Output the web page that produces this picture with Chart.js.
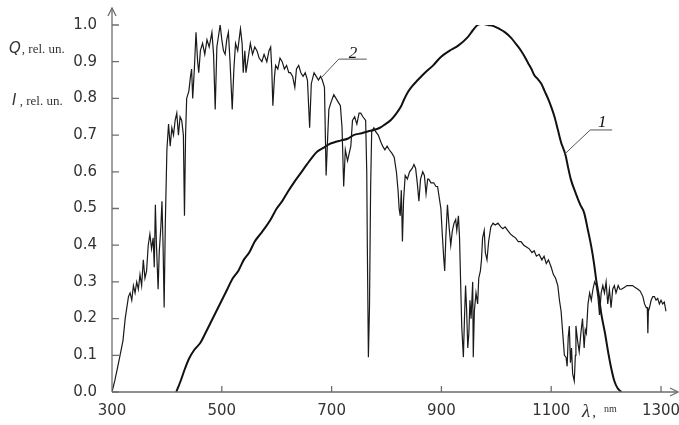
<!DOCTYPE html>
<html><head><meta charset="utf-8">
<script src="https://cdn.jsdelivr.net/npm/chart.js@4"></script>
<style>html,body{margin:0;padding:0;background:#fff}#wrap{width:679px;height:425px;position:relative}</style>
</head><body><div id="wrap"><canvas id="c" width="679" height="425"></canvas></div>
<script>
// Tick labels
const xTicks = [300, 500, 700, 900, 1100, 1300];
const yTicks = [0, 0.1, 0.2, 0.3, 0.4, 0.5, 0.6, 0.7, 0.8, 0.9, 1.0];

// Curve 1: Q (relative units) vs wavelength, nm
const lambda1 = [417,425,432,440,450,461,470,480,490,500,510,520,530,540,550,560,570,580,589,600,610,620,631,643,655,665,674,685,695,704,716,729,740,755,766,777,788,798,808,817,826,832,838,845,857,870,885,899,915,930,948,957,966,975,985,995,1005,1016,1027,1036,1045,1052,1058,1064,1069,1076,1082,1088,1094,1100,1106,1112,1118,1126,1131,1136,1145,1153,1160,1167,1173,1178,1182,1187,1191,1198,1204,1210,1215,1221,1228];
const q1 = [0.00,0.03,0.06,0.09,0.115,0.134,0.16,0.19,0.22,0.25,0.28,0.31,0.33,0.36,0.38,0.41,0.43,0.45,0.47,0.50,0.52,0.545,0.57,0.595,0.62,0.64,0.655,0.665,0.675,0.68,0.685,0.69,0.70,0.705,0.71,0.714,0.72,0.73,0.741,0.757,0.777,0.797,0.815,0.83,0.85,0.87,0.89,0.913,0.93,0.943,0.967,0.985,1.00,1.003,1.00,0.997,0.99,0.98,0.965,0.948,0.93,0.913,0.896,0.88,0.864,0.852,0.84,0.82,0.80,0.777,0.75,0.715,0.68,0.646,0.61,0.578,0.54,0.51,0.488,0.44,0.396,0.35,0.305,0.26,0.215,0.16,0.106,0.06,0.03,0.01,0.00];

// Curve 2: I (relative units) vs wavelength, nm
const lambda2 = [300,305,312,320,324,327,330,333,336,339,342,345,348,351,354,357,360,363,366,369,372,375,377,379,381,384,386,389,391,393,395,397,400,403,406,409,412,415,418,421,424,427,430,432,434,436,440,443,445,447,450,453,456,458,461,465,469,473,477,482,485,488,491,494,497,500,503,506,509,512,515,519,522,525,529,534,537,539,542,544,548,552,556,560,564,568,573,577,582,586,589,591,593,596,598,602,606,610,614,618,622,625,629,633,636,640,644,648,652,656,660,663,668,672,676,680,683,687,690,693,695,699,704,708,712,716,719,722,725,729,732,735,738,742,746,750,753,757,762,764,765,767,769,771,773,777,780,785,790,793,797,801,805,810,814,818,821,823,825,827,829,831,834,838,842,847,850,853,856,859,862,866,869,872,875,877,881,886,890,893,896,899,902,904,906,908,911,914,917,920,923,926,928,931,933,935,937,940,942,944,946,948,950,952,954,957,958,960,963,966,968,971,973,975,978,980,983,986,990,994,998,1003,1008,1012,1016,1021,1026,1030,1035,1040,1045,1050,1055,1060,1065,1069,1073,1078,1083,1087,1091,1095,1100,1104,1108,1112,1115,1118,1120,1122,1124,1127,1129,1131,1133,1135,1137,1139,1142,1144,1145,1148,1151,1154,1157,1160,1162,1164,1167,1170,1173,1176,1179,1182,1185,1188,1191,1194,1197,1200,1203,1206,1209,1212,1215,1218,1222,1225,1228,1233,1238,1243,1248,1253,1258,1262,1267,1270,1273,1275,1276,1277,1279,1282,1285,1288,1291,1294,1297,1300,1303,1306,1309];
const i2 = [0.00,0.03,0.08,0.14,0.20,0.23,0.26,0.27,0.25,0.29,0.27,0.30,0.28,0.32,0.29,0.36,0.31,0.33,0.40,0.43,0.39,0.42,0.34,0.51,0.40,0.28,0.38,0.45,0.52,0.40,0.23,0.45,0.66,0.73,0.67,0.72,0.70,0.74,0.76,0.70,0.75,0.74,0.70,0.48,0.70,0.80,0.82,0.86,0.88,0.80,0.88,0.98,0.90,0.87,0.93,0.95,0.92,0.96,0.94,0.98,0.92,0.77,0.94,0.97,1.00,0.96,0.93,0.92,0.96,0.98,0.90,0.77,0.88,0.95,0.93,0.99,0.95,0.87,0.93,0.87,0.91,0.95,0.92,0.94,0.93,0.91,0.90,0.92,0.90,0.93,0.94,0.88,0.78,0.86,0.89,0.88,0.91,0.90,0.88,0.89,0.87,0.87,0.86,0.83,0.88,0.89,0.87,0.86,0.87,0.85,0.72,0.84,0.87,0.86,0.85,0.86,0.85,0.83,0.59,0.70,0.77,0.79,0.81,0.80,0.79,0.78,0.72,0.56,0.66,0.63,0.65,0.67,0.74,0.75,0.73,0.76,0.76,0.75,0.74,0.60,0.41,0.095,0.23,0.55,0.71,0.72,0.71,0.70,0.68,0.67,0.66,0.67,0.66,0.65,0.64,0.60,0.55,0.50,0.48,0.55,0.41,0.52,0.59,0.58,0.60,0.61,0.62,0.61,0.57,0.52,0.58,0.60,0.59,0.54,0.58,0.58,0.57,0.57,0.56,0.56,0.53,0.50,0.42,0.37,0.33,0.42,0.51,0.45,0.40,0.44,0.46,0.47,0.44,0.48,0.42,0.30,0.18,0.095,0.20,0.29,0.22,0.12,0.16,0.25,0.20,0.30,0.095,0.22,0.27,0.24,0.31,0.33,0.36,0.42,0.44,0.38,0.36,0.41,0.45,0.46,0.455,0.46,0.45,0.445,0.45,0.44,0.43,0.425,0.42,0.41,0.41,0.40,0.395,0.39,0.38,0.385,0.37,0.375,0.36,0.37,0.35,0.36,0.34,0.32,0.31,0.29,0.25,0.22,0.18,0.14,0.10,0.095,0.07,0.15,0.18,0.08,0.12,0.05,0.03,0.10,0.18,0.14,0.11,0.16,0.20,0.12,0.17,0.16,0.24,0.27,0.25,0.28,0.30,0.29,0.26,0.21,0.27,0.29,0.27,0.30,0.24,0.28,0.23,0.28,0.29,0.27,0.29,0.28,0.28,0.285,0.29,0.29,0.29,0.285,0.28,0.275,0.26,0.24,0.23,0.23,0.16,0.22,0.23,0.25,0.26,0.26,0.25,0.255,0.24,0.25,0.24,0.245,0.22];

// Curve labels (data coordinates): anchor, knee, end, text position
const label1 = {text: '1', anchor: [1123, 0.646], knee: [1171, 0.714], end: [1211, 0.714], pos: [1193, 0.738]};
const label2 = {text: '2', anchor: [681, 0.856], knee: [713, 0.907], end: [764, 0.907], pos: [739, 0.926]};

const AXIS = '#6e6e6e';
const TXT = '#333';

const decor = {
  id: 'decor',
  afterDraw(chart) {
    const ctx = chart.ctx, xs = chart.scales.x, ys = chart.scales.y, a = chart.chartArea;
    const x0 = xs.getPixelForValue(300), y0 = ys.getPixelForValue(0);
    ctx.save();
    ctx.strokeStyle = AXIS; ctx.lineWidth = 1.3;
    ctx.beginPath();
    ctx.moveTo(x0, y0); ctx.lineTo(x0, ys.getPixelForValue(1) - 17);
    ctx.moveTo(x0, y0); ctx.lineTo(a.right + 6, y0);
    ctx.stroke();
    const ty = ys.getPixelForValue(1) - 17;
    ctx.beginPath();
    ctx.moveTo(x0 - 4, ty + 8); ctx.lineTo(x0, ty); ctx.lineTo(x0 + 4, ty + 8);
    const tx = a.right + 6;
    ctx.moveTo(tx - 8, y0 - 4); ctx.lineTo(tx, y0); ctx.lineTo(tx - 8, y0 + 4);
    ctx.stroke();
    ctx.beginPath();
    yTicks.forEach(v => { const p = ys.getPixelForValue(v); ctx.moveTo(x0, p); ctx.lineTo(x0 + 7, p); });
    xTicks.forEach(v => { if (v === 300) return; const p = xs.getPixelForValue(v); ctx.moveTo(p, y0); ctx.lineTo(p, y0 - 6); });
    ctx.stroke();
    ctx.strokeStyle = '#555'; ctx.lineWidth = 1;
    [label1, label2].forEach(L => {
      ctx.beginPath();
      ctx.moveTo(xs.getPixelForValue(L.anchor[0]), ys.getPixelForValue(L.anchor[1]));
      ctx.lineTo(xs.getPixelForValue(L.knee[0]), ys.getPixelForValue(L.knee[1]));
      ctx.lineTo(xs.getPixelForValue(L.end[0]), ys.getPixelForValue(L.end[1]));
      ctx.stroke();
      ctx.fillStyle = '#111';
      ctx.font = 'italic 17px "Liberation Serif", serif';
      ctx.textAlign = 'center'; ctx.textBaseline = 'alphabetic';
      ctx.fillText(L.text, xs.getPixelForValue(L.pos[0]), ys.getPixelForValue(L.pos[1]) + 6);
    });
    ctx.fillStyle = TXT; ctx.textAlign = 'left'; ctx.textBaseline = 'alphabetic';
    ctx.font = 'italic 15px "DejaVu Sans", sans-serif';
    ctx.fillText('Q', 9, 53);
    let w = ctx.measureText('Q').width;
    ctx.font = '13px "Liberation Serif", serif';
    ctx.fillText(', rel. un.', 9 + w + 1, 53);
    ctx.font = 'italic 15px "DejaVu Sans", sans-serif';
    ctx.fillText('I', 12, 105);
    w = ctx.measureText('I').width;
    ctx.font = '13px "Liberation Serif", serif';
    ctx.fillText(' , rel. un.', 12 + w, 105);
    ctx.font = 'italic 19px "Liberation Serif", serif';
    ctx.fillText('\u03bb', 582, 417);
    w = ctx.measureText('\u03bb').width;
    ctx.font = '15px "Liberation Serif", serif';
    ctx.fillText(',', 582 + w + 2, 417);
    ctx.font = '10px "Liberation Serif", serif';
    ctx.fillText('nm', 604, 412);
    ctx.restore();
  }
};

new Chart(document.getElementById('c'), {
  type: 'scatter',
  data: {
    datasets: [
      {label: '2', data: lambda2.map((x, k) => ({x, y: i2[k]})), showLine: true, borderColor: '#1a1a1a', borderWidth: 1.2, pointRadius: 0, tension: 0, fill: false},
      {label: '1', data: lambda1.map((x, k) => ({x, y: q1[k]})), showLine: true, borderColor: '#111', borderWidth: 2, pointRadius: 0, cubicInterpolationMode: 'monotone', fill: false}
    ]
  },
  options: {
    responsive: false, animation: false, devicePixelRatio: 1,
    layout: {padding: {top: 25, right: 7, left: 0, bottom: 0}},
    plugins: {legend: {display: false}, tooltip: {enabled: false}},
    scales: {
      x: {
        type: 'linear', min: 300, max: 1320,
        afterBuildTicks: s => { s.ticks = xTicks.map(v => ({value: v})); },
        afterFit: s => { s.height = 33; s.paddingLeft = 0; s.paddingRight = 0; },
        grid: {display: false, drawTicks: false}, border: {display: false},
        ticks: {padding: 10, color: TXT, font: {family: '"DejaVu Sans", sans-serif', size: 15}, maxRotation: 0, autoSkip: false, callback: v => String(v)}
      },
      y: {
        min: 0, max: 1,
        afterBuildTicks: s => { s.ticks = yTicks.map(v => ({value: v})); },
        afterFit: s => { s.width = 112; s.paddingTop = 0; s.paddingBottom = 0; },
        grid: {display: false, drawTicks: false}, border: {display: false},
        ticks: {padding: 15, color: TXT, font: {family: '"DejaVu Sans", sans-serif', size: 15}, callback: v => v.toFixed(1)}
      }
    }
  },
  plugins: [decor]
});
</script>
</body></html>
